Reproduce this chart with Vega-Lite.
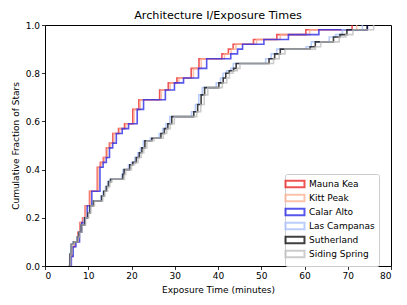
{
  "$schema": "https://vega.github.io/schema/vega-lite/v6.json",
  "width": 346,
  "height": 241,
  "autosize": "none",
  "padding": {"left": 45, "top": 25, "right": 16, "bottom": 39},
  "background": "white",
  "config": {
    "font": "DejaVu Sans",
    "view": {"stroke": "black", "strokeWidth": 1},
    "axis": {"domain": false, "grid": false, "tickColor": "black", "tickSize": 3.5, "tickWidth": 0.8, "labelColor": "black", "labelFontSize": 9, "titleFontSize": 9, "titleFontWeight": "normal", "titleColor": "black", "labelPadding": 2}
  },
  "title": {"text": "Architecture I/Exposure Times", "fontSize": 11.2, "fontWeight": "normal", "offset": 0, "color": "black"},
  "data": {"values": [
    {"s":"Mauna Kea","t":5.5,"f":0},{"s":"Mauna Kea","t":5.8,"f":0.04},{"s":"Mauna Kea","t":6.2,"f":0.08},{"s":"Mauna Kea","t":6.8,"f":0.10},{"s":"Mauna Kea","t":7.6,"f":0.14},{"s":"Mauna Kea","t":8.1,"f":0.18},{"s":"Mauna Kea","t":8.7,"f":0.20},{"s":"Mauna Kea","t":9.3,"f":0.25},{"s":"Mauna Kea","t":10.3,"f":0.31},{"s":"Mauna Kea","t":12.1,"f":0.41},{"s":"Mauna Kea","t":12.8,"f":0.43},{"s":"Mauna Kea","t":13.5,"f":0.45},{"s":"Mauna Kea","t":14.2,"f":0.49},{"s":"Mauna Kea","t":14.9,"f":0.51},{"s":"Mauna Kea","t":15.7,"f":0.55},{"s":"Mauna Kea","t":17.0,"f":0.57},{"s":"Mauna Kea","t":18.4,"f":0.59},{"s":"Mauna Kea","t":20.3,"f":0.65},{"s":"Mauna Kea","t":21.7,"f":0.69},{"s":"Mauna Kea","t":26.5,"f":0.73},{"s":"Mauna Kea","t":28.5,"f":0.76},{"s":"Mauna Kea","t":30.5,"f":0.78},{"s":"Mauna Kea","t":33.8,"f":0.82},{"s":"Mauna Kea","t":35.6,"f":0.86},{"s":"Mauna Kea","t":40.9,"f":0.88},{"s":"Mauna Kea","t":42.4,"f":0.90},{"s":"Mauna Kea","t":43.5,"f":0.92},{"s":"Mauna Kea","t":48.2,"f":0.94},{"s":"Mauna Kea","t":53.6,"f":0.96},{"s":"Mauna Kea","t":60.3,"f":0.98},{"s":"Mauna Kea","t":71.0,"f":1.0},
    {"s":"Kitt Peak","t":5.58,"f":0},{"s":"Kitt Peak","t":5.89,"f":0.04},{"s":"Kitt Peak","t":6.29,"f":0.08},{"s":"Kitt Peak","t":6.9,"f":0.10},{"s":"Kitt Peak","t":7.71,"f":0.14},{"s":"Kitt Peak","t":8.22,"f":0.18},{"s":"Kitt Peak","t":8.83,"f":0.20},{"s":"Kitt Peak","t":9.44,"f":0.25},{"s":"Kitt Peak","t":10.45,"f":0.31},{"s":"Kitt Peak","t":12.28,"f":0.41},{"s":"Kitt Peak","t":12.99,"f":0.43},{"s":"Kitt Peak","t":13.7,"f":0.45},{"s":"Kitt Peak","t":14.41,"f":0.49},{"s":"Kitt Peak","t":15.12,"f":0.51},{"s":"Kitt Peak","t":15.94,"f":0.55},{"s":"Kitt Peak","t":17.26,"f":0.57},{"s":"Kitt Peak","t":18.68,"f":0.59},{"s":"Kitt Peak","t":20.6,"f":0.65},{"s":"Kitt Peak","t":22.03,"f":0.69},{"s":"Kitt Peak","t":26.9,"f":0.73},{"s":"Kitt Peak","t":28.93,"f":0.76},{"s":"Kitt Peak","t":30.96,"f":0.78},{"s":"Kitt Peak","t":34.31,"f":0.82},{"s":"Kitt Peak","t":36.13,"f":0.86},{"s":"Kitt Peak","t":41.51,"f":0.88},{"s":"Kitt Peak","t":43.04,"f":0.90},{"s":"Kitt Peak","t":44.15,"f":0.92},{"s":"Kitt Peak","t":48.92,"f":0.94},{"s":"Kitt Peak","t":54.4,"f":0.96},{"s":"Kitt Peak","t":61.2,"f":0.98},{"s":"Kitt Peak","t":72.07,"f":1.0},
    {"s":"Calar Alto","t":5.78,"f":0},{"s":"Calar Alto","t":6.09,"f":0.04},{"s":"Calar Alto","t":6.51,"f":0.08},{"s":"Calar Alto","t":7.14,"f":0.10},{"s":"Calar Alto","t":7.98,"f":0.14},{"s":"Calar Alto","t":8.51,"f":0.18},{"s":"Calar Alto","t":9.14,"f":0.20},{"s":"Calar Alto","t":9.77,"f":0.25},{"s":"Calar Alto","t":10.82,"f":0.31},{"s":"Calar Alto","t":12.71,"f":0.41},{"s":"Calar Alto","t":13.44,"f":0.43},{"s":"Calar Alto","t":14.18,"f":0.45},{"s":"Calar Alto","t":14.91,"f":0.49},{"s":"Calar Alto","t":15.65,"f":0.51},{"s":"Calar Alto","t":16.49,"f":0.55},{"s":"Calar Alto","t":17.85,"f":0.57},{"s":"Calar Alto","t":19.32,"f":0.59},{"s":"Calar Alto","t":21.32,"f":0.65},{"s":"Calar Alto","t":22.79,"f":0.69},{"s":"Calar Alto","t":27.83,"f":0.73},{"s":"Calar Alto","t":29.93,"f":0.76},{"s":"Calar Alto","t":32.03,"f":0.78},{"s":"Calar Alto","t":35.49,"f":0.82},{"s":"Calar Alto","t":37.38,"f":0.86},{"s":"Calar Alto","t":42.95,"f":0.88},{"s":"Calar Alto","t":44.52,"f":0.90},{"s":"Calar Alto","t":45.68,"f":0.92},{"s":"Calar Alto","t":50.61,"f":0.94},{"s":"Calar Alto","t":56.28,"f":0.96},{"s":"Calar Alto","t":63.32,"f":0.98},{"s":"Calar Alto","t":74.55,"f":1.0},
    {"s":"Las Campanas","t":5.42,"f":0},{"s":"Las Campanas","t":5.71,"f":0.05},{"s":"Las Campanas","t":6.01,"f":0.09},{"s":"Las Campanas","t":6.5,"f":0.10},{"s":"Las Campanas","t":7.39,"f":0.12},{"s":"Las Campanas","t":7.78,"f":0.14},{"s":"Las Campanas","t":8.27,"f":0.17},{"s":"Las Campanas","t":9.06,"f":0.20},{"s":"Las Campanas","t":9.75,"f":0.22},{"s":"Las Campanas","t":10.24,"f":0.25},{"s":"Las Campanas","t":11.03,"f":0.27},{"s":"Las Campanas","t":12.9,"f":0.29},{"s":"Las Campanas","t":13.4,"f":0.31},{"s":"Las Campanas","t":13.99,"f":0.33},{"s":"Las Campanas","t":14.48,"f":0.35},{"s":"Las Campanas","t":14.97,"f":0.36},{"s":"Las Campanas","t":17.73,"f":0.38},{"s":"Las Campanas","t":18.03,"f":0.40},{"s":"Las Campanas","t":19.31,"f":0.42},{"s":"Las Campanas","t":20.0,"f":0.43},{"s":"Las Campanas","t":20.78,"f":0.45},{"s":"Las Campanas","t":21.47,"f":0.47},{"s":"Las Campanas","t":22.06,"f":0.49},{"s":"Las Campanas","t":22.75,"f":0.52},{"s":"Las Campanas","t":24.33,"f":0.53},{"s":"Las Campanas","t":26.4,"f":0.55},{"s":"Las Campanas","t":27.19,"f":0.57},{"s":"Las Campanas","t":27.97,"f":0.59},{"s":"Las Campanas","t":28.86,"f":0.62},{"s":"Las Campanas","t":33.88,"f":0.64},{"s":"Las Campanas","t":34.77,"f":0.67},{"s":"Las Campanas","t":35.56,"f":0.71},{"s":"Las Campanas","t":36.35,"f":0.74},{"s":"Las Campanas","t":39.6,"f":0.76},{"s":"Las Campanas","t":40.58,"f":0.78},{"s":"Las Campanas","t":41.17,"f":0.80},{"s":"Las Campanas","t":41.96,"f":0.81},{"s":"Las Campanas","t":42.95,"f":0.82},{"s":"Las Campanas","t":43.54,"f":0.84},{"s":"Las Campanas","t":51.02,"f":0.86},{"s":"Las Campanas","t":52.3,"f":0.88},{"s":"Las Campanas","t":53.58,"f":0.90},{"s":"Las Campanas","t":60.38,"f":0.91},{"s":"Las Campanas","t":61.56,"f":0.93},{"s":"Las Campanas","t":65.7,"f":0.95},{"s":"Las Campanas","t":67.18,"f":0.96},{"s":"Las Campanas","t":68.75,"f":0.98},{"s":"Las Campanas","t":73.38,"f":1.0},
    {"s":"Sutherland","t":5.5,"f":0},{"s":"Sutherland","t":5.8,"f":0.05},{"s":"Sutherland","t":6.1,"f":0.09},{"s":"Sutherland","t":6.6,"f":0.10},{"s":"Sutherland","t":7.5,"f":0.12},{"s":"Sutherland","t":7.9,"f":0.14},{"s":"Sutherland","t":8.4,"f":0.17},{"s":"Sutherland","t":9.2,"f":0.20},{"s":"Sutherland","t":9.9,"f":0.22},{"s":"Sutherland","t":10.4,"f":0.25},{"s":"Sutherland","t":11.2,"f":0.27},{"s":"Sutherland","t":13.1,"f":0.29},{"s":"Sutherland","t":13.6,"f":0.31},{"s":"Sutherland","t":14.2,"f":0.33},{"s":"Sutherland","t":14.7,"f":0.35},{"s":"Sutherland","t":15.2,"f":0.36},{"s":"Sutherland","t":18.0,"f":0.38},{"s":"Sutherland","t":18.3,"f":0.40},{"s":"Sutherland","t":19.6,"f":0.42},{"s":"Sutherland","t":20.3,"f":0.43},{"s":"Sutherland","t":21.1,"f":0.45},{"s":"Sutherland","t":21.8,"f":0.47},{"s":"Sutherland","t":22.4,"f":0.49},{"s":"Sutherland","t":23.1,"f":0.52},{"s":"Sutherland","t":24.7,"f":0.53},{"s":"Sutherland","t":26.8,"f":0.55},{"s":"Sutherland","t":27.6,"f":0.57},{"s":"Sutherland","t":28.4,"f":0.59},{"s":"Sutherland","t":29.3,"f":0.62},{"s":"Sutherland","t":34.4,"f":0.64},{"s":"Sutherland","t":35.3,"f":0.67},{"s":"Sutherland","t":36.1,"f":0.71},{"s":"Sutherland","t":36.9,"f":0.74},{"s":"Sutherland","t":40.2,"f":0.76},{"s":"Sutherland","t":41.2,"f":0.78},{"s":"Sutherland","t":41.8,"f":0.80},{"s":"Sutherland","t":42.6,"f":0.81},{"s":"Sutherland","t":43.6,"f":0.82},{"s":"Sutherland","t":44.2,"f":0.84},{"s":"Sutherland","t":51.8,"f":0.86},{"s":"Sutherland","t":53.1,"f":0.88},{"s":"Sutherland","t":54.4,"f":0.90},{"s":"Sutherland","t":61.3,"f":0.91},{"s":"Sutherland","t":62.5,"f":0.93},{"s":"Sutherland","t":66.7,"f":0.95},{"s":"Sutherland","t":68.2,"f":0.96},{"s":"Sutherland","t":69.8,"f":0.98},{"s":"Sutherland","t":74.5,"f":1.0},
    {"s":"Siding Spring","t":5.61,"f":0},{"s":"Siding Spring","t":5.92,"f":0.05},{"s":"Siding Spring","t":6.22,"f":0.09},{"s":"Siding Spring","t":6.73,"f":0.10},{"s":"Siding Spring","t":7.65,"f":0.12},{"s":"Siding Spring","t":8.06,"f":0.14},{"s":"Siding Spring","t":8.57,"f":0.17},{"s":"Siding Spring","t":9.38,"f":0.20},{"s":"Siding Spring","t":10.1,"f":0.22},{"s":"Siding Spring","t":10.61,"f":0.25},{"s":"Siding Spring","t":11.42,"f":0.27},{"s":"Siding Spring","t":13.36,"f":0.29},{"s":"Siding Spring","t":13.87,"f":0.31},{"s":"Siding Spring","t":14.48,"f":0.33},{"s":"Siding Spring","t":14.99,"f":0.35},{"s":"Siding Spring","t":15.5,"f":0.36},{"s":"Siding Spring","t":18.36,"f":0.38},{"s":"Siding Spring","t":18.67,"f":0.40},{"s":"Siding Spring","t":19.99,"f":0.42},{"s":"Siding Spring","t":20.71,"f":0.43},{"s":"Siding Spring","t":21.52,"f":0.45},{"s":"Siding Spring","t":22.24,"f":0.47},{"s":"Siding Spring","t":22.85,"f":0.49},{"s":"Siding Spring","t":23.56,"f":0.52},{"s":"Siding Spring","t":25.19,"f":0.53},{"s":"Siding Spring","t":27.34,"f":0.55},{"s":"Siding Spring","t":28.15,"f":0.57},{"s":"Siding Spring","t":28.97,"f":0.59},{"s":"Siding Spring","t":29.89,"f":0.62},{"s":"Siding Spring","t":35.09,"f":0.64},{"s":"Siding Spring","t":36.01,"f":0.67},{"s":"Siding Spring","t":36.82,"f":0.71},{"s":"Siding Spring","t":37.64,"f":0.74},{"s":"Siding Spring","t":41.0,"f":0.76},{"s":"Siding Spring","t":42.02,"f":0.78},{"s":"Siding Spring","t":42.64,"f":0.80},{"s":"Siding Spring","t":43.45,"f":0.81},{"s":"Siding Spring","t":44.47,"f":0.82},{"s":"Siding Spring","t":45.08,"f":0.84},{"s":"Siding Spring","t":52.84,"f":0.86},{"s":"Siding Spring","t":54.16,"f":0.88},{"s":"Siding Spring","t":55.49,"f":0.90},{"s":"Siding Spring","t":62.53,"f":0.91},{"s":"Siding Spring","t":63.75,"f":0.93},{"s":"Siding Spring","t":68.03,"f":0.95},{"s":"Siding Spring","t":69.56,"f":0.96},{"s":"Siding Spring","t":71.2,"f":0.98},{"s":"Siding Spring","t":75.99,"f":1.0}
  ]},
  "mark": {"type": "line", "interpolate": "step-after", "strokeWidth": 1.6, "strokeOpacity": 0.75, "clip": true},
  "encoding": {
    "x": {"field": "t", "type": "quantitative", "scale": {"domain": [0, 80], "nice": false, "zero": false}, "axis": {"title": "Exposure Time (minutes)", "values": [0,10,20,30,40,50,60,70,80], "format": "d", "titlePadding": 5}},
    "y": {"field": "f", "type": "quantitative", "scale": {"domain": [0, 1]}, "axis": {"title": "Cumulative Fraction of Stars", "values": [0,0.2,0.4,0.6,0.8,1.0], "format": ".1f", "titlePadding": 5}},
    "color": {"field": "s", "type": "nominal",
      "scale": {"domain": ["Mauna Kea","Kitt Peak","Calar Alto","Las Campanas","Sutherland","Siding Spring"], "range": ["#e91c1c","#fcae91","#1f1fe6","#a3bdfc","#000000","#bbbbbb"]},
      "legend": {"title": null, "orient": "none", "legendX": 240, "legendY": 149, "labelFontSize": 9, "labelColor": "black", "symbolType": "M-2,-0.7H2V0.7H-2Z", "symbolSize": 90, "symbolStrokeWidth": 2, "symbolOpacity": 0.75, "labelOffset": 8, "rowPadding": -2.3, "padding": 4, "strokeColor": "#cccccc", "fillColor": "white", "cornerRadius": 2}
    },
    "order": {"field": "t", "type": "quantitative"}
  }
}
